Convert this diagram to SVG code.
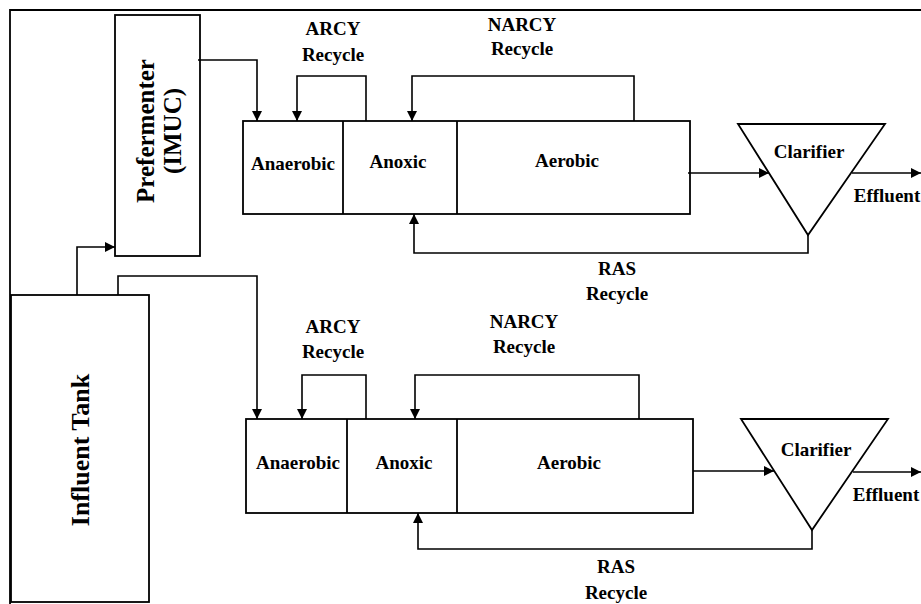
<svg xmlns="http://www.w3.org/2000/svg" width="921" height="604" viewBox="0 0 921 604">
<defs>
<marker id="ah" markerUnits="userSpaceOnUse" markerWidth="10" markerHeight="10" refX="10" refY="5" orient="auto">
<path d="M0,0 L10,5 L0,10 z" fill="#000"/>
</marker>
<style>
.box{fill:#fff;stroke:#000;stroke-width:1.8}
.ln{fill:none;stroke:#000;stroke-width:1.8}
.c{fill:none;stroke:#000;stroke-width:1.6;marker-end:url(#ah)}
.t{font-family:"Liberation Serif","Times New Roman",serif;font-weight:bold;font-size:19px;fill:#000;text-anchor:middle}
.big{font-size:25px}
.big2{font-size:26px}
</style>
</defs>
<rect width="921" height="604" fill="#fff"/>
<g id="frame">
<path class="ln" d="M10,604 V10 H921"/>
</g>
<g id="prefermenter">
<rect class="box" x="115" y="15" width="85" height="241"/>
<text class="t big" transform="translate(154,131) rotate(-90)">Prefermenter</text>
<text class="t big" transform="translate(181,131) rotate(-90)">(IMUC)</text>
</g>
<g id="influent-tank">
<rect class="box" x="11" y="295" width="138" height="307"/>
<text class="t big2" transform="translate(89,450) rotate(-90)">Influent Tank</text>
</g>
<g id="reactor-1">
<rect class="box" x="243" y="121" width="447" height="93"/>
<line class="ln" x1="343" y1="121" x2="343" y2="214"/>
<line class="ln" x1="457" y1="121" x2="457" y2="214"/>
<text class="t" x="293" y="170">Anaerobic</text>
<text class="t" x="398" y="168">Anoxic</text>
<text class="t" x="567" y="167">Aerobic</text>
</g>
<g id="clarifier-1">
<path class="box" d="M738,124 H885 L808,235 z"/>
<text class="t" x="809" y="158">Clarifier</text>
</g>
<g id="reactor-2">
<rect class="box" x="246" y="419" width="447" height="94"/>
<line class="ln" x1="347" y1="419" x2="347" y2="513"/>
<line class="ln" x1="457" y1="419" x2="457" y2="513"/>
<text class="t" x="298" y="469">Anaerobic</text>
<text class="t" x="404" y="469">Anoxic</text>
<text class="t" x="569" y="469">Aerobic</text>
</g>
<g id="clarifier-2">
<path class="box" d="M741,419 H888 L812,530 z"/>
<text class="t" x="816" y="456">Clarifier</text>
</g>
<g id="connectors">
<path class="c" d="M198,60 H257 V121"/>
<path class="c" d="M77,295 V247 H115"/>
<path class="c" d="M118,295 V276 H257 V419"/>
<path class="c" d="M366,121 V76 H297 V121"/>
<path class="c" d="M634,121 V76 H412 V121"/>
<path class="c" d="M688,173 H769"/>
<path class="c" d="M852,173 H921"/>
<path class="c" d="M808,235 V253 H414 V214"/>
<path class="c" d="M366,419 V375 H302 V419"/>
<path class="c" d="M639,419 V375 H415 V419"/>
<path class="c" d="M693,471 H774"/>
<path class="c" d="M853,472 H921"/>
<path class="c" d="M812,530 V549 H418 V513"/>
</g>
<g id="labels">
<text class="t" x="333" y="35">ARCY</text>
<text class="t" x="333" y="61">Recycle</text>
<text class="t" x="522" y="31">NARCY</text>
<text class="t" x="522" y="55">Recycle</text>
<text class="t" x="617" y="275">RAS</text>
<text class="t" x="617" y="300">Recycle</text>
<text class="t" x="887" y="202">Effluent</text>
<text class="t" x="333" y="333">ARCY</text>
<text class="t" x="333" y="358">Recycle</text>
<text class="t" x="524" y="328">NARCY</text>
<text class="t" x="524" y="353">Recycle</text>
<text class="t" x="616" y="573">RAS</text>
<text class="t" x="616" y="599">Recycle</text>
<text class="t" x="886" y="501">Effluent</text>
</g>
</svg>
